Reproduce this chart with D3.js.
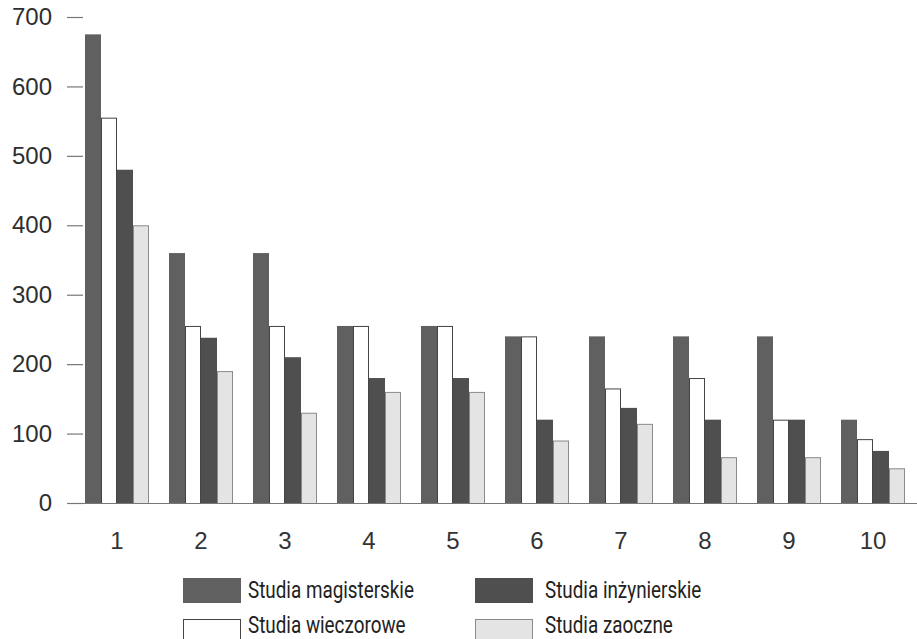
<!DOCTYPE html>
<html>
<head>
<meta charset="utf-8">
<script src="https://cdn.jsdelivr.net/npm/d3@7"></script>
<style>
  html, body { margin: 0; padding: 0; background: #fff; }
  svg { display: block; }
</style>
</head>
<body>
<svg id="chart" width="917" height="639"></svg>
<script>
// Categories and series (number of places per field of study)
const categories = ["1", "2", "3", "4", "5", "6", "7", "8", "9", "10"];
const seriesNames = ["Studia magisterskie", "Studia wieczorowe", "Studia inżynierskie", "Studia zaoczne"];
const magisterskie = [675, 360, 360, 255, 255, 240, 240, 240, 240, 120];
const wieczorowe   = [555, 255, 255, 255, 255, 240, 165, 180, 120, 92];
const inzynierskie = [480, 238, 210, 180, 180, 120, 137, 120, 120, 75];
const zaoczne      = [400, 190, 130, 160, 160, 90, 114, 66, 66, 50];
const yTicks = [0, 100, 200, 300, 400, 500, 600, 700];

const seriesValues = [magisterskie, wieczorowe, inzynierskie, zaoczne];
const fills   = ["#606060", "#ffffff", "#4f4f4f", "#e4e4e4"];
const strokes = ["none", "#444444", "none", "#8a8a8a"];

const svg = d3.select("#chart");

const y = d3.scaleLinear().domain([0, 700]).range([503, 17]);
const x = d3.scaleBand().domain(categories).range([75, 915])
  .paddingInner(20 / 84).paddingOuter(10 / 84);
const xs = d3.scaleBand().domain(d3.range(4)).range([0, x.bandwidth()]);

// Y axis: tick marks and labels, no vertical line
const yAxis = d3.axisLeft(y).tickValues(yTicks).tickSize(16).tickPadding(15);
const gy = svg.append("g").attr("transform", "translate(83,0)").call(yAxis);
gy.select(".domain").remove();
gy.selectAll(".tick line").attr("stroke", "#777").attr("stroke-width", 1.2);
gy.selectAll(".tick text")
  .attr("fill", "#2e2e2e")
  .style("font-family", "'Liberation Sans', Arial, sans-serif")
  .style("font-size", "24px");

// Bars
const groups = svg.append("g").selectAll("g")
  .data(categories)
  .join("g")
  .attr("transform", d => `translate(${x(d)},0)`);

groups.selectAll("rect")
  .data((c, i) => seriesValues.map((vals, s) => ({ s, v: vals[i] })))
  .join("rect")
  .attr("x", d => xs(d.s) + (strokes[d.s] !== "none" ? 0.5 : 0))
  .attr("y", d => y(d.v) + (strokes[d.s] !== "none" ? 0.5 : 0))
  .attr("width", d => xs.bandwidth() - (strokes[d.s] !== "none" ? 1 : 0))
  .attr("height", d => y(0) - y(d.v))
  .attr("fill", d => fills[d.s])
  .attr("stroke", d => strokes[d.s])
  .attr("stroke-width", 1);

// X axis baseline and category labels
const xAxis = d3.axisBottom(x).tickSize(0).tickPadding(29);
const gx = svg.append("g").attr("transform", `translate(0,${y(0)})`).call(xAxis);
gx.select(".domain").remove();
svg.append("line")
  .attr("x1", 67).attr("x2", 917)
  .attr("y1", y(0) + 0.5).attr("y2", y(0) + 0.5)
  .attr("stroke", "#777").attr("stroke-width", 1.2);
gx.selectAll(".tick text")
  .attr("fill", "#333")
  .style("font-family", "'Liberation Sans', Arial, sans-serif")
  .style("font-size", "24px");

// Legend (two columns, two rows)
const legendPos = [
  { x: 183, y: 578 }, { x: 183, y: 619 },
  { x: 475, y: 578 }, { x: 475, y: 619 }
];
const legend = svg.append("g").selectAll("g")
  .data([0, 1, 2, 3])
  .join("g")
  .attr("transform", (s, i) => `translate(${legendPos[i].x},${legendPos[i].y})`);

legend.append("rect")
  .attr("x", 0.5).attr("y", 0.5)
  .attr("width", 57).attr("height", 24)
  .attr("fill", s => fills[s])
  .attr("stroke", s => strokes[s] === "none" ? fills[s] : strokes[s]);

legend.append("text")
  .attr("transform", s => `translate(${s >= 2 ? 70 : 65},${s % 2 === 0 ? 20 : 14}) scale(0.82,1)`)
  .attr("fill", "#222")
  .style("font-family", "Roboto, 'Liberation Sans', sans-serif")
  .style("font-size", "23px")
  .text(s => seriesNames[s]);
</script>
</body>
</html>
